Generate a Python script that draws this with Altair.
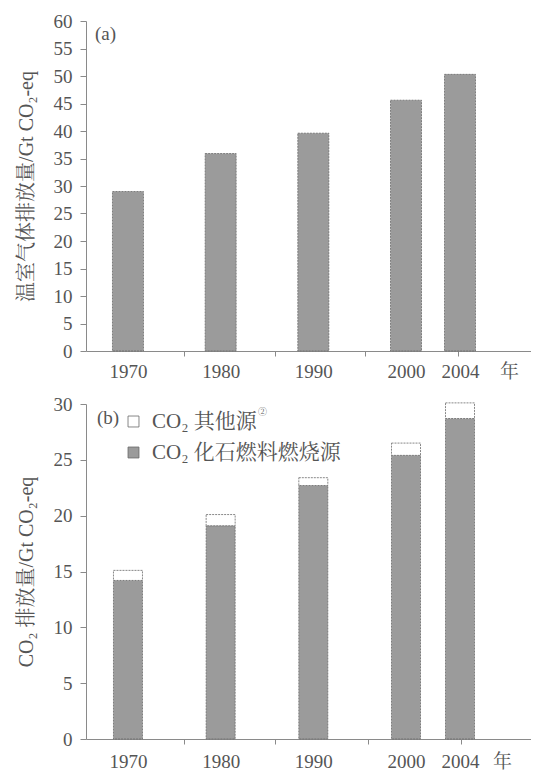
import altair as alt
import pandas as pd

# ---- data ----
years = [1970, 1980, 1990, 2000, 2004]
ghg_total = [29.0, 35.9, 39.6, 45.6, 50.3]          # (a) total GHG, Gt CO2-eq
co2_fossil = [14.2, 19.1, 22.7, 25.4, 28.7]          # (b) fossil fuel combustion
co2_other = [0.9, 1.0, 0.7, 1.1, 1.4]                # (b) other CO2 sources
series_names = ["CO₂ 其他源", "CO₂ 化石燃料燃烧源"]
top_tick_bounds = [1976.0, 1985.9, 1995.6, 2003.85]
bottom_tick_bounds = [1976.0, 1985.9, 1995.9, 2004.1]
top_unit_pos = 2009.9
bottom_unit_pos = 2009.05
unit_label = "年"

FONT = "Liberation Serif, Noto Serif CJK SC, Noto Sans CJK SC, serif"
TXT = "#555555"
AX = "#8a8a8a"
BAR = "#9b9b9b"
EDGE = "#6a6a6a"

W = 445
x_scale = alt.Scale(domain=[1966, 2000, 2004, 2012], range=[0, 320, 374, 445],
                    nice=False, zero=False)


def x_axis(bounds, unit_pos, pad):
    vals = years + bounds + [unit_pos]
    ylist = ",".join(str(v) for v in years)
    blist = ",".join(str(v) for v in bounds)
    return alt.Axis(
        values=vals,
        title=None,
        labelExpr=(f"datum.value == {unit_pos} ? '{unit_label}' : "
                   f"(indexof([{ylist}], datum.value) >= 0 ? '' + datum.value : '')"),
        tickOpacity={"condition": {"test": f"indexof([{blist}], datum.value) >= 0", "value": 1},
                     "value": 0},
        tickSize=5,
        labelPadding=pad,
        labelFontSize=19,
        labelOverlap=False,
        labelFlush=False,
        grid=False,
    )


def y_axis(title, maxv):
    return alt.Axis(
        title=title,
        values=list(range(0, maxv + 1, 5)),
        tickSize=6,
        labelPadding=8,
        labelFontSize=19,
        titleFontSize=20,
        titlePadding=17,
        grid=False,
    )


# ---- panel (a) ----
df_a = pd.DataFrame({"year": years, "value": ghg_total})
bars_a = alt.Chart(df_a).mark_bar(
    size=31, fill=BAR, stroke=EDGE, strokeWidth=0.8, strokeDash=[2, 1]
).encode(
    x=alt.X("year:Q", scale=x_scale, axis=x_axis(top_tick_bounds, top_unit_pos, 6)),
    y=alt.Y("value:Q", scale=alt.Scale(domain=[0, 60], nice=False),
            axis=y_axis("温室气体排放量/Gt CO₂-eq", 60)),
)
lab_a = alt.Chart(pd.DataFrame({"t": ["(a)"]})).mark_text(
    font=FONT, fontSize=19, color=TXT, align="left", baseline="middle"
).encode(text="t:N", x=alt.value(9), y=alt.value(13))
panel_a = alt.layer(bars_a, lab_a).properties(width=W, height=330)

# ---- panel (b) ----
rows = []
for y, f, o in zip(years, co2_fossil, co2_other):
    rows.append({"year": y, "series": series_names[1], "value": f, "ord": 0})
    rows.append({"year": y, "series": series_names[0], "value": o, "ord": 1})
df_b = pd.DataFrame(rows)
bars_b = alt.Chart(df_b).mark_bar(
    size=29, stroke=EDGE, strokeWidth=0.8, strokeDash=[2, 1]
).encode(
    x=alt.X("year:Q", scale=x_scale, axis=x_axis(bottom_tick_bounds, bottom_unit_pos, 8)),
    y=alt.Y("value:Q", stack="zero", scale=alt.Scale(domain=[0, 30], nice=False),
            axis=y_axis("CO₂ 排放量/Gt CO₂-eq", 30)),
    fill=alt.Fill("series:N",
                  scale=alt.Scale(domain=series_names, range=["white", BAR]),
                  legend=alt.Legend(
                      title=None, orient="none", legendX=37, legendY=390,
                      symbolType="square", symbolSize=120,
                      symbolStrokeColor=EDGE, symbolStrokeWidth=0.8,
                      labelFont=FONT, labelFontSize=21, labelColor=TXT,
                      labelOffset=8, rowPadding=9, labelLimit=0,
                  )),
    order=alt.Order("ord:Q"),
)
lab_b = alt.Chart(pd.DataFrame({"t": ["(b)"]})).mark_text(
    font=FONT, fontSize=19, color=TXT, align="left", baseline="middle"
).encode(text="t:N", x=alt.value(11), y=alt.value(14))
note_b = alt.Chart(pd.DataFrame({"t": ["②"]})).mark_text(
    font=FONT, fontSize=9, color=TXT, align="left", baseline="middle"
).encode(text="t:N", x=alt.value(172), y=alt.value(8))
panel_b = alt.layer(bars_b, lab_b, note_b).properties(width=W, height=335)

chart = alt.vconcat(panel_a, panel_b, spacing=14).properties(
    padding={"left": 8, "top": 4, "right": 0, "bottom": 0}
).configure_view(stroke=None).configure_axis(
    labelFont=FONT, titleFont=FONT, labelColor=TXT, titleColor=TXT,
    titleFontWeight="normal", domainColor=AX, tickColor=AX, domainWidth=1,
)

chart.save("out.html", embed_options={"renderer": "svg", "actions": False})
